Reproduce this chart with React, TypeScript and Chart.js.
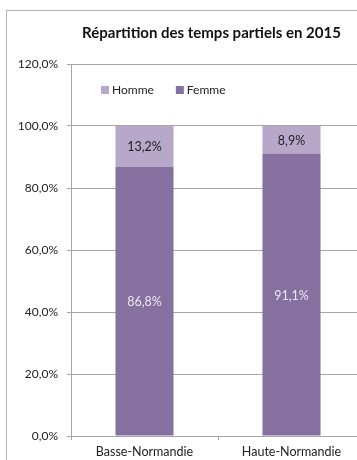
import React, { useEffect, useRef } from "react";
import { Chart, registerables } from "chart.js";

Chart.register(...registerables);

const regions = ["Basse-Normandie", "Haute-Normandie"];
const femme = [86.8, 91.1];
const homme = [13.2, 8.9];
const yTicks = [0, 20, 40, 60, 80, 100, 120];

const FONT = "Lato, 'Open Sans', sans-serif";
const HOMME_COLOR = "#b7a8ca";
const FEMME_COLOR = "#8570a0";
const GRID = "#a6a6a6";

const fmt = (v: number) => v.toFixed(1).replace(".", ",") + "%";

const framePlugin = {
  id: "frame",
  beforeDraw(chart: any) {
    const { ctx } = chart;
    ctx.save();
    ctx.fillStyle = "#ffffff";
    ctx.fillRect(0, 0, chart.width, chart.height);
    ctx.strokeStyle = "#b5b5b5";
    ctx.lineWidth = 1;
    ctx.strokeRect(6.5, 10.5, chart.width - 14, chart.height - 4);
    ctx.restore();
  },
};

const valueLabels = {
  id: "valueLabels",
  afterDatasetsDraw(chart: any) {
    const { ctx } = chart;
    ctx.save();
    ctx.font = `12.5px ${FONT}`;
    ctx.textAlign = "center";
    ctx.textBaseline = "middle";
    chart.data.datasets.forEach((ds: any, i: number) => {
      const meta = chart.getDatasetMeta(i);
      meta.data.forEach((bar: any, j: number) => {
        ctx.fillStyle = ds.labelColor;
        ctx.fillText(fmt(ds.data[j]), bar.x, (bar.y + bar.base) / 2 + 1);
      });
    });
    ctx.restore();
  },
};

const innerLegend = {
  id: "innerLegend",
  afterDraw(chart: any) {
    const { ctx, chartArea } = chart;
    ctx.save();
    ctx.font = `12px ${FONT}`;
    ctx.textBaseline = "middle";
    ctx.textAlign = "left";
    const order = [1, 0];
    let x = chartArea.left + 30;
    const y = chartArea.top + 26;
    order.forEach((idx) => {
      const ds = chart.data.datasets[idx];
      ctx.fillStyle = ds.backgroundColor;
      ctx.fillRect(x, y - 4, 8, 8);
      ctx.fillStyle = "#222222";
      ctx.fillText(ds.label, x + 11, y);
      x += 11 + ctx.measureText(ds.label).width + 22;
    });
    ctx.restore();
  },
};

export default function App() {
  const ref = useRef<HTMLCanvasElement>(null);

  useEffect(() => {
    if (!ref.current) return;
    const chart = new Chart(ref.current, {
      type: "bar",
      data: {
        labels: regions,
        datasets: [
          {
            label: "Femme",
            data: femme,
            backgroundColor: FEMME_COLOR,
            labelColor: "#ece6f2",
          } as any,
          {
            label: "Homme",
            data: homme,
            backgroundColor: HOMME_COLOR,
            labelColor: "#222222",
          } as any,
        ],
      },
      options: {
        responsive: false,
        animation: false,
        devicePixelRatio: 1,
        layout: { padding: 0 },
        datasets: {
          bar: { categoryPercentage: 1, barPercentage: 0.395, borderWidth: 0 },
        },
        plugins: {
          legend: { display: false },
          tooltip: { enabled: false },
          title: {
            display: true,
            text: "Répartition des temps partiels en 2015",
            color: "#111111",
            font: { family: FONT, size: 15, weight: "bold", lineHeight: 1.2 },
            padding: { top: 24, bottom: 22 },
          },
        },
        scales: {
          x: {
            stacked: true,
            afterFit(scale: any) {
              scale.height = 44;
            },
            grid: {
              drawOnChartArea: false,
              drawTicks: true,
              tickLength: 4,
              color: GRID,
              offset: true,
            },
            border: { color: GRID },
            ticks: {
              color: "#222222",
              padding: 4,
              font: { family: FONT, size: 12.5 },
            },
          },
          y: {
            stacked: true,
            min: 0,
            max: 120,
            afterBuildTicks(scale: any) {
              scale.ticks = yTicks.map((v) => ({ value: v }));
            },
            afterFit(scale: any) {
              scale.width = 71;
            },
            grid: { color: GRID, tickLength: 4 },
            border: { color: GRID },
            ticks: {
              color: "#222222",
              padding: 9,
              font: { family: FONT, size: 12 },
              callback: (v: any) => fmt(Number(v)),
            },
          },
          // empty right-hand margin inside the frame
          side: {
            type: "linear",
            position: "right",
            display: true,
            afterFit(scale: any) {
              scale.width = 58;
            },
            grid: { drawOnChartArea: false, drawTicks: false },
            border: { display: false },
            ticks: { display: false },
          },
        },
      },
      plugins: [framePlugin, valueLabels, innerLegend],
    });
    return () => chart.destroy();
  }, []);

  return (
    <div
      style={{
        position: "absolute",
        left: 0,
        top: 0,
        width: 357,
        height: 460,
        overflow: "hidden",
        background: "#fff",
      }}
    >
      <canvas ref={ref} width={423} height={480} style={{ display: "block" }} />
    </div>
  );
}
